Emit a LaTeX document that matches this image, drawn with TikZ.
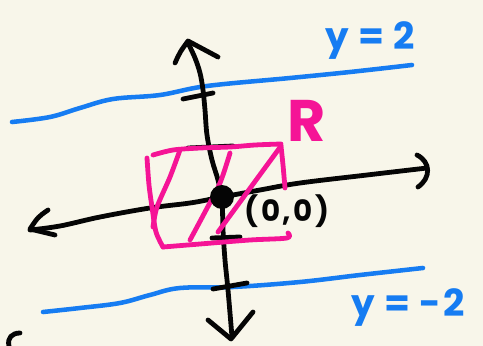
\documentclass[tikz,border=0pt]{standalone}
\usepackage{fontspec}
\setmainfont{Poppins}
\definecolor{paper}{RGB}{248,246,234}
\definecolor{skyblue}{RGB}{22,124,242}
\definecolor{hotpink}{RGB}{245,20,150}
\definecolor{ink}{RGB}{5,5,5}
\begin{document}
\begin{tikzpicture}[x=0.75pt,y=-0.75pt,line cap=round,line join=round,
  stroke/.style={line width=3.6pt},
  axis/.style={stroke,draw=ink},
  bluestroke/.style={stroke,draw=skyblue,line width=3.4pt},
  pinkstroke/.style={stroke,draw=hotpink},
  bluetext/.style={text=skyblue,font=\fontsize{28}{30}\selectfont\bfseries\addfontfeatures{LetterSpace=4}},
  pinktext/.style={text=hotpink,font=\fontsize{44}{46}\selectfont\bfseries},
  inktext/.style={text=ink,font=\fontsize{22}{24}\selectfont\bfseries\addfontfeatures{LetterSpace=8}}]
\fill[paper] (0,0) rectangle (483,346);
\useasboundingbox (0,0) rectangle (483,346);
% horizontal lines y=2 and y=-2
\draw[bluestroke] plot[smooth,tension=0.6] coordinates {(12,122) (50,117) (80,108) (113,99) (160,95) (207,86) (290,78) (350,72) (412,65)};
\draw[bluestroke] plot[smooth,tension=0.6] coordinates {(43,312) (80,308) (120,303) (150,295) (180,288) (233,287) (300,282) (360,275) (423,268)};
% vertical axis
\draw[axis] plot[smooth,tension=0.6] coordinates {(188,43) (195,58) (200,73) (203,90) (205,110) (207,135) (212,160) (218,180) (222,200) (223,230) (225,260) (228,290) (232,337)};
\draw[axis] (175,63) .. controls (180,52) .. (188,41) -- (218,57);
\draw[axis] (208,320) -- (231,339) -- (253,312);
% ticks
\draw[axis] (183,99) -- (213,93);
\draw[axis] (213,289) -- (247,283);
\draw[axis] (188,148) -- (233,146);
\draw[axis] (212,238) -- (240,237);
% horizontal axis
\draw[axis] plot[smooth,tension=0.6] coordinates {(30,230) (60,226) (100,217) (150,208) (190,203) (217,198) (260,190) (300,183) (367,175) (427,168)};
\draw[axis] (417,155) .. controls (431,162) and (431,178) .. (418,187);
\draw[axis] (48,210) .. controls (38,217) .. (30,229) -- (55,235);
% stray mark
\draw[axis] (20,333) .. controls (12,333) and (7,338) .. (9,346);
% region R
\draw[pinkstroke] plot[smooth,tension=0.5] coordinates {(153,155) (173,150) (200,148) (230,147) (255,145) (281,144)};
\draw[pinkstroke] plot[smooth,tension=0.5] coordinates {(147,158) (149,185) (152,207) (156,232) (163,247)};
\draw[pinkstroke] plot[smooth,tension=0.5] coordinates {(163,247) (200,244) (250,240) (287,238) (288,233)};
\draw[pinkstroke] plot[smooth,tension=0.5] coordinates {(281,146) (283,165) (285,188)};
\draw[pinkstroke] plot[smooth,tension=0.5] coordinates {(180,150) (170,177) (157,207) (153,227)};
\draw[pinkstroke] plot[smooth,tension=0.5] coordinates {(230,153) (220,183) (205,212) (190,240)};
\draw[pinkstroke] (218,232) -- (281,146);
% origin
\fill[ink] (222,197) circle (12);
% labels
\node[bluetext,anchor=center] (ytwo) at (370,41) {y = 2};
\node[bluetext,anchor=center] (ymtwo) at (408,308) {y = -2};
\node[pinktext,anchor=center] (rlab) at (307,121) {R};
\node[inktext,anchor=center] (orig) at (287,211) {(0,0)};
\end{tikzpicture}
\end{document}
